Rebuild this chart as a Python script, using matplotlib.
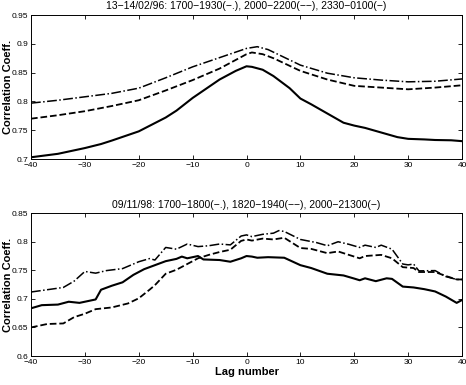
import numpy as np
import matplotlib
matplotlib.use('Agg')
import matplotlib.pyplot as plt
import matplotlib.ticker as ticker

plt.rcParams['font.family'] = ['Liberation Sans', 'DejaVu Sans']

# panneau du haut : 13-14/02/96
lag_a = [-40, -35, -30, -27, -25, -20, -15, -13, -10, -5, -2, 0, 1, 3, 5, 8, 10, 12, 15, 18, 20, 22, 25, 28, 30, 33, 35, 38, 40]
solid_a = [0.703, 0.709, 0.719, 0.726, 0.732, 0.748, 0.772, 0.784, 0.806, 0.838, 0.853, 0.861, 0.860, 0.855, 0.844, 0.823, 0.805, 0.795, 0.779, 0.763, 0.758, 0.754, 0.746, 0.738, 0.735, 0.734, 0.733, 0.7325, 0.731]

lag_a2 = [-40, -35, -30, -25, -20, -15, -10, -5, 0, 1, 3, 5, 10, 15, 20, 25, 30, 35, 40]
dash_a = [0.770, 0.776, 0.783, 0.792, 0.802, 0.819, 0.837, 0.857, 0.882, 0.885, 0.882, 0.875, 0.853, 0.838, 0.827, 0.824, 0.821, 0.824, 0.828]

lag_a3 = [-40, -35, -30, -25, -20, -15, -10, -5, 0, 2, 4, 10, 15, 20, 25, 30, 35, 40]
dashdot_a = [0.797, 0.802, 0.808, 0.814, 0.823, 0.841, 0.860, 0.876, 0.892, 0.895, 0.890, 0.863, 0.849, 0.841, 0.837, 0.834, 0.835, 0.839]

# panneau du bas : 09/11/98
lag_b = [-40, -38, -35, -33, -31, -29, -28, -27, -25, -23, -21, -19, -17, -15, -13, -12, -11, -9, -8, -5, -3, -1, 0, 1, 2, 4, 7, 10, 12, 15, 18, 20, 21, 22, 24, 26, 27, 29, 31, 33, 35, 37, 39, 40]
solid_b = [0.6835, 0.689, 0.690, 0.695, 0.693, 0.697, 0.699, 0.716, 0.723, 0.729, 0.742, 0.752, 0.759, 0.766, 0.770, 0.774, 0.771, 0.775, 0.769, 0.768, 0.765, 0.771, 0.775, 0.774, 0.772, 0.773, 0.772, 0.759, 0.754, 0.744, 0.741, 0.7355, 0.7326, 0.736, 0.731, 0.736, 0.735, 0.7215, 0.720, 0.717, 0.713, 0.704, 0.693, 0.698]

lag_b2 = [-40, -37, -34, -32, -30, -28, -25, -22, -20, -18, -17, -15, -13, -11, -9, -7, -5, -3, -1, 0, 1, 3, 5, 7, 10, 12, 15, 17, 20, 21, 22, 25, 27, 29, 31, 32, 35, 37, 39, 40]
dash_b = [0.650, 0.656, 0.657, 0.668, 0.674, 0.682, 0.685, 0.692, 0.701, 0.716, 0.724, 0.744, 0.751, 0.761, 0.771, 0.777, 0.782, 0.786, 0.8015, 0.804, 0.802, 0.8055, 0.804, 0.807, 0.789, 0.7875, 0.780, 0.783, 0.774, 0.771, 0.775, 0.777, 0.771, 0.7555, 0.754, 0.747, 0.747, 0.740, 0.734, 0.734]

lag_b3 = [-40, -37, -34, -32, -30, -28, -26, -23, -20, -18, -17, -15, -13, -11, -9, -7, -5, -3, -1, 0, 1, 3, 5, 6, 7, 10, 13, 15, 17, 19, 21, 22, 24, 25, 27, 29, 30, 31, 32, 35, 37, 39, 40]
dashdot_b = [0.712, 0.716, 0.720, 0.731, 0.748, 0.745, 0.7495, 0.753, 0.765, 0.7705, 0.768, 0.790, 0.787, 0.796, 0.7915, 0.793, 0.796, 0.7945, 0.810, 0.812, 0.809, 0.813, 0.815, 0.8195, 0.818, 0.804, 0.7985, 0.793, 0.800, 0.7955, 0.790, 0.794, 0.790, 0.794, 0.787, 0.761, 0.7595, 0.761, 0.749, 0.7495, 0.739, 0.734, 0.734]

titre_a = '13\u221214/02/96: 1700\u22121930(\u2212.), 2000\u22122200(\u2212\u2212), 2330\u22120100(\u2212)'
titre_b = '09/11/98: 1700\u22121800(\u2212.), 1820\u22121940(\u2212\u2212), 2000\u221221300(\u2212)'

fig = plt.figure(figsize=(4.66, 3.85), dpi=100)
ax1 = fig.add_axes([0.0665, 0.587, 0.925, 0.374])
ax2 = fig.add_axes([0.0665, 0.0753, 0.925, 0.371])


def style(ax, ylo, yhi, titre):
    ax.set_xlim(-40, 40)
    ax.set_ylim(ylo, yhi)
    ax.xaxis.set_major_locator(ticker.MultipleLocator(10))
    ax.yaxis.set_major_locator(ticker.MultipleLocator(0.05))
    ax.yaxis.set_major_formatter(ticker.FormatStrFormatter('%g'))
    ax.tick_params(direction='in', top=True, right=True, labelsize=6, length=3, width=0.6, pad=2)
    for s in ax.spines.values():
        s.set_linewidth(0.7)
    ax.set_ylabel('Correlation Coeff.', fontsize=8, fontweight='bold')
    ax.yaxis.set_label_coords(-0.041, 0.5)
    ax.set_title(titre, fontsize=7.5, pad=4)


ax1.plot(lag_a, solid_a, 'k-', lw=1.5)
ax1.plot(lag_a2, dash_a, 'k--', lw=1.3)
ax1.plot(lag_a3, dashdot_a, 'k-.', lw=1.1)
style(ax1, 0.7, 0.95, titre_a)

ax2.plot(lag_b, solid_b, 'k-', lw=1.5)
ax2.plot(lag_b2, dash_b, 'k--', lw=1.3)
ax2.plot(lag_b3, dashdot_b, 'k-.', lw=1.1)
style(ax2, 0.6, 0.85, titre_b)
ax2.set_xlabel('Lag number', fontsize=8, fontweight='bold', labelpad=1)

plt.savefig('out.png', dpi=100)
